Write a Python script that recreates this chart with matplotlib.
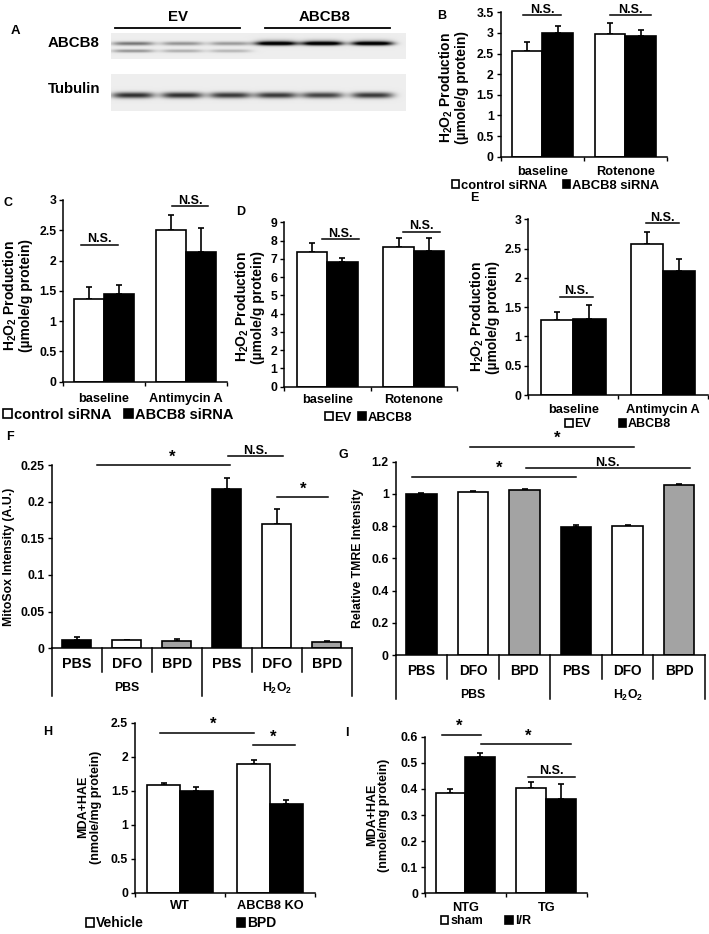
import numpy as np
import matplotlib.pyplot as plt
from matplotlib.lines import Line2D
from matplotlib.ticker import FuncFormatter
import matplotlib.transforms as mtransforms

plt.rcParams['font.family'] = ['Liberation Sans', 'DejaVu Sans']
plt.rcParams['font.weight'] = 'bold'
plt.rcParams['mathtext.fontset'] = 'custom'
plt.rcParams['mathtext.rm'] = 'Liberation Sans:bold'
plt.rcParams['mathtext.it'] = 'Liberation Sans:bold'
plt.rcParams['mathtext.bf'] = 'Liberation Sans:bold'
plt.rcParams['axes.linewidth'] = 1.1

# ---- data ----
# A: western blot, band strength per lane (3 x EV, 3 x ABCB8)
abcb8_upper = [0.6, 0.45, 0.42, 1.2, 1.2, 1.2]
abcb8_lower = [0.45, 0.32, 0.28, 0.0, 0.0, 0.0]
tubulin_band = [0.95, 0.95, 0.90, 0.90, 0.85, 0.90]

cats_b = ['baseline', 'Rotenone']
b_ctrl, b_ctrl_err = [2.57, 2.98], [0.21, 0.26]
b_kd, b_kd_err = [2.99, 2.92], [0.19, 0.14]

cats_c = ['baseline', 'Antimycin A']
c_ctrl, c_ctrl_err = [1.37, 2.50], [0.20, 0.25]
c_kd, c_kd_err = [1.44, 2.14], [0.16, 0.40]

cats_d = ['baseline', 'Rotenone']
d_ev, d_ev_err = [7.35, 7.65], [0.50, 0.50]
d_oe, d_oe_err = [6.80, 7.42], [0.25, 0.70]

cats_e = ['baseline', 'Antimycin A']
e_ev, e_ev_err = [1.28, 2.57], [0.13, 0.21]
e_oe, e_oe_err = [1.30, 2.12], [0.23, 0.20]

treat_fg = ['PBS', 'DFO', 'BPD', 'PBS', 'DFO', 'BPD']
groups_fg = ['PBS', 'H$_2$O$_2$']
f_vals = [0.012, 0.011, 0.0105, 0.217, 0.169, 0.009]
f_err = [0.003, 0.001, 0.002, 0.015, 0.021, 0.0007]
g_vals = [1.0, 1.01, 1.025, 0.795, 0.80, 1.055]
g_err = [0.003, 0.008, 0.008, 0.010, 0.008, 0.007]
fg_colors = ['black', 'white', '#a3a3a3', 'black', 'white', '#a3a3a3']

cats_h = ['WT', 'ABCB8 KO']
h_veh, h_veh_err = [1.58, 1.89], [0.03, 0.06]
h_bpd, h_bpd_err = [1.49, 1.31], [0.07, 0.06]

cats_i = ['NTG', 'TG']
i_sham, i_sham_err = [0.383, 0.402], [0.017, 0.023]
i_ir, i_ir_err = [0.523, 0.360], [0.014, 0.060]

ylab_h2o2 = 'H$_2$O$_2$ Production\n(µmole/g protein)'
ylab_mda = 'MDA+HAE\n(nmole/mg protein)'

W, H = 709, 934
fig = plt.figure(figsize=(W / 100, H / 100), dpi=100)


def px_axes(x0, y0, x1, y1):
    return fig.add_axes([x0 / W, 1 - y1 / H, (x1 - x0) / W, (y1 - y0) / H])


def label(x, y, s, size=8.5, **kw):
    fig.text(x / W, 1 - y / H, s, fontsize=size, fontweight='bold',
             ha='center', va='center', **kw)


def style_axes(ax, ymax, step, ncat, tick_size=8.8):
    ax.set_ylim(0, ymax)
    ax.set_xlim(-0.5, ncat - 0.5)
    ax.set_yticks(np.round(np.arange(0, ymax + step / 2, step), 4))
    ax.yaxis.set_major_formatter(FuncFormatter(lambda v, _: f'{v:g}'))
    ax.spines[['top', 'right']].set_visible(False)
    ax.tick_params(axis='y', direction='out', length=3, width=1, labelsize=tick_size, pad=2)
    ax.patch.set_alpha(0)


def pair_panel(ax, cats, v1, e1, v2, e2, ymax, step, pad, width=0.37):
    x = np.arange(len(cats))
    style_axes(ax, ymax, step, len(cats))
    b1 = ax.bar(x - width / 2, v1, width, color='white', edgecolor='black', linewidth=1.2, zorder=2)
    b2 = ax.bar(x + width / 2, v2, width, color='black', edgecolor='black', linewidth=1.2, zorder=2)
    for xs, v, e in ((x - width / 2, v1, e1), (x + width / 2, v2, e2)):
        ax.errorbar(xs, v, yerr=[np.zeros(len(v)), e], fmt='none', ecolor='black',
                    elinewidth=1.2, capsize=2.3, capthick=1.2, zorder=1)
    ax.set_xticks(x)
    ax.set_xticklabels(cats, fontsize=9.2, fontweight='bold')
    ax.set_xticks(np.arange(-0.5, len(cats), 1), minor=True)
    ax.tick_params(axis='x', which='major', length=0, pad=pad)
    ax.tick_params(axis='x', which='minor', direction='out', length=3, width=1)
    return b1, b2


def add_legend(ax, handles, names, bx, by, spacing, size=9):
    ax.legend(handles, names, loc='center', bbox_to_anchor=(bx, by), ncol=2,
              frameon=False, handlelength=0.6, handleheight=0.6,
              handletextpad=0.15, columnspacing=spacing, borderaxespad=0, borderpad=0,
              prop={'weight': 'bold', 'size': size})


def sig(ax, x1, x2, y, text, tx=None, star=False):
    ax.plot([x1, x2], [y, y], color='black', lw=1.1, clip_on=False, zorder=3)
    tx = (x1 + x2) / 2 if tx is None else tx
    if star:
        ax.annotate(text, xy=(tx, y), xytext=(0, 0.5), textcoords='offset points',
                    ha='center', va='bottom', fontsize=12, fontweight='bold',
                    annotation_clip=False)
    else:
        ax.annotate(text, xy=(tx, y), xytext=(0, 1.8), textcoords='offset points',
                    ha='center', va='baseline', fontsize=9, fontweight='bold',
                    annotation_clip=False)


# ---- A: western blot ----
lane_px = [133, 182, 230, 276, 322, 372]


def blot_strip(y0, y1, bands):
    ax = px_axes(111, y0, 406, y1)
    X, Y = np.meshgrid(np.arange(111, 406, 0.5), np.arange(y0, y1, 0.5))
    img = np.full(X.shape, 0.93)
    for yc, sy, strength in bands:
        for cx, s in zip(lane_px, strength):
            img -= s * 0.8 * np.exp(-((X - cx) / 21) ** 4) * np.exp(-((Y - yc) / sy) ** 2)
    ax.imshow(np.clip(img, 0, 1), cmap='gray', vmin=0, vmax=1,
              extent=(111, 406, y1, y0), aspect='auto', interpolation='bilinear')
    ax.axis('off')


blot_strip(33, 59, [(43.3, 1.9, abcb8_upper), (50.7, 1.6, abcb8_lower), (42.0, 3.2, [0, 0, 0, 0.3, 0.3, 0.3])])
blot_strip(74, 111, [(95.0, 3.0, tubulin_band)])
for x0, x1 in ((115, 240), (265, 390)):
    fig.add_artist(Line2D([x0 / W, x1 / W], [1 - 28 / H] * 2, color='black', lw=1.3))
label(178, 17, 'EV', size=10.8)
label(325, 17, 'ABCB8', size=10.8)
label(74, 43, 'ABCB8', size=10.8)
label(74, 89, 'Tubulin', size=10.8)
label(15, 31, 'A', size=9.5)

# ---- B ----
ax = px_axes(500.7, 12.3, 667, 156.7)
h = pair_panel(ax, cats_b, b_ctrl, b_ctrl_err, b_kd, b_kd_err, 3.5, 0.5, pad=6.5)
add_legend(ax, h, ['control siRNA', 'ABCB8 siRNA'], 0.33, -0.2, 1.15, size=9.4)
sig(ax, -0.23, 0.225, 3.43, 'N.S.')
sig(ax, 0.81, 1.31, 3.43, 'N.S.')
label(453, 88, ylab_h2o2, size=10, rotation=90, linespacing=1.0)
label(442, 16, 'B', size=9)

# ---- C ----
ax = px_axes(63.3, 200, 226.7, 381.7)
h = pair_panel(ax, cats_c, c_ctrl, c_ctrl_err, c_kd, c_kd_err, 3, 0.5, pad=8)
add_legend(ax, h, ['control siRNA', 'ABCB8 siRNA'], 0.337, -0.183, 0.9, size=10.5)
sig(ax, -0.28, 0.17, 2.26, 'N.S.')
sig(ax, 0.83, 1.27, 2.90, 'N.S.')
label(17, 296, ylab_h2o2, size=10, rotation=90, linespacing=1.0)
label(8, 203, 'C', size=9)

# ---- D ----
ax = px_axes(284.3, 222.3, 456.7, 386.7)
h = pair_panel(ax, cats_d, d_ev, d_ev_err, d_oe, d_oe_err, 9, 1, pad=5.5, width=0.35)
add_legend(ax, h, ['EV', 'ABCB8'], 0.49, -0.19, 0.5, size=9.4)
sig(ax, -0.06, 0.37, 8.07, 'N.S.')
sig(ax, 0.88, 1.31, 8.48, 'N.S.')
label(249, 307, ylab_h2o2, size=10, rotation=90, linespacing=1.0)
label(241, 212, 'D', size=9)

# ---- E ----
ax = px_axes(528.3, 219.3, 708, 395)
h = pair_panel(ax, cats_e, e_ev, e_ev_err, e_oe, e_oe_err, 3, 0.5, pad=6.5, width=0.36)
add_legend(ax, h, ['EV', 'ABCB8'], 0.5, -0.165, 2.2)
sig(ax, -0.15, 0.22, 1.68, 'N.S.')
sig(ax, 0.81, 1.18, 2.93, 'N.S.')
label(484, 317, ylab_h2o2, size=10, rotation=90, linespacing=1.0)
label(474, 198, 'E', size=9)


# ---- F and G: two-level category axes ----
def grouped_panel(ax, vals, errs, ymax, step, ax_h, sep_px, grp_px, row_px, glab_px, row_size):
    n = len(vals)
    x = np.arange(n)
    style_axes(ax, ymax, step, n)
    ax.bar(x, vals, 0.59, color=fg_colors, edgecolor='black', linewidth=1.2, zorder=2)
    ax.errorbar(x, vals, yerr=[np.zeros(n), errs], fmt='none', ecolor='black',
                elinewidth=1.2, capsize=2.3, capthick=1.2, zorder=1)
    ax.set_xticks([])
    trans = mtransforms.blended_transform_factory(ax.transData, ax.transAxes)
    for b in (0.5, 1.5, 3.5, 4.5):
        ax.add_line(Line2D([b, b], [0, -sep_px / ax_h], transform=trans, color='black',
                           lw=1.1, clip_on=False))
    for b in (-0.5, 2.5, 5.5):
        ax.add_line(Line2D([b, b], [0, -grp_px / ax_h], transform=trans, color='black',
                           lw=1.1, clip_on=False))
    for i, t in enumerate(treat_fg):
        ax.annotate(t, xy=(i, 0), xycoords=('data', 'axes fraction'),
                    xytext=(0, -row_px * 0.72), textcoords='offset points',
                    ha='center', va='center', fontsize=row_size, fontweight='bold',
                    annotation_clip=False)
    for gx, g in zip((1, 4), groups_fg):
        ax.annotate(g, xy=(gx, 0), xycoords=('data', 'axes fraction'),
                    xytext=(0, -glab_px * 0.72), textcoords='offset points',
                    ha='center', va='center', fontsize=8.8, fontweight='bold',
                    annotation_clip=False)


ax = px_axes(51.7, 465, 351.7, 648.3)
grouped_panel(ax, f_vals, f_err, 0.25, 0.05, 183.3, 24, 48, 16, 40, 10.3)
sig(ax, 0.4, 3.07, 0.25, '*', tx=1.9, star=True)
sig(ax, 3.02, 4.13, 0.262, 'N.S.')
sig(ax, 4.0, 5.03, 0.206, '*', tx=4.53, star=True)
label(9, 557, 'MitoSox Intensity (A.U.)', size=8.8, rotation=90)
label(10, 437, 'F', size=9)

ax = px_axes(395.7, 461.7, 705, 655)
grouped_panel(ax, g_vals, g_err, 1.2, 0.2, 193.3, 24, 44, 16, 40, 9.8)
sig(ax, 0.94, 4.13, 1.293, '*', tx=2.63, star=True)
sig(ax, -0.19, 2.99, 1.107, '*', tx=1.5, star=True)
sig(ax, 2.02, 5.21, 1.159, 'N.S.', tx=3.6)
label(358, 558, 'Relative TMRE Intensity', size=8.8, rotation=90)
label(343, 455, 'G', size=9)

# ---- H ----
ax = px_axes(135, 722.7, 315, 892.7)
h = pair_panel(ax, cats_h, h_veh, h_veh_err, h_bpd, h_bpd_err, 2.5, 0.5, pad=5, width=0.365)
add_legend(ax, h, ['Vehicle', 'BPD'], 0.256, -0.18, 6.7, size=10)
sig(ax, -0.22, 0.82, 2.355, '*', tx=0.37, star=True)
sig(ax, 0.81, 1.28, 2.17, '*', tx=1.03, star=True)
label(89.5, 807, ylab_mda, size=9, rotation=90, linespacing=1.05)
label(48, 732, 'H', size=9)

# ---- I ----
ax = px_axes(425, 736.7, 586.7, 893.3)
h = pair_panel(ax, cats_i, i_sham, i_sham_err, i_ir, i_ir_err, 0.6, 0.1, pad=6.5, width=0.37)
add_legend(ax, h, ['sham', 'I/R'], 0.376, -0.18, 1.8)
sig(ax, -0.29, 0.19, 0.607, '*', tx=-0.08, star=True)
sig(ax, 0.19, 1.31, 0.571, '*', tx=0.77, star=True)
sig(ax, 0.77, 1.36, 0.447, 'N.S.')
label(378, 815, ylab_mda, size=9, rotation=90, linespacing=1.05)
label(347, 733, 'I', size=9)

fig.savefig('out.png', dpi=100)
